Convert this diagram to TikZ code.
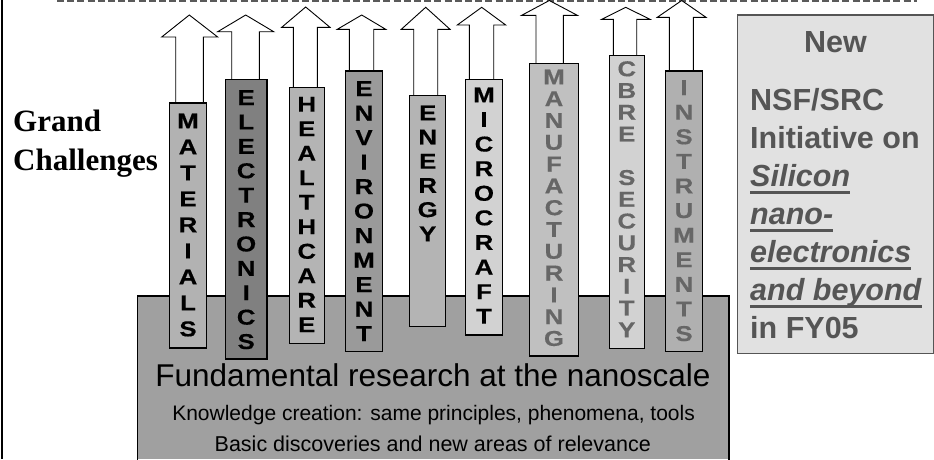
\documentclass[tikz,border=0pt]{standalone}
\usepackage{fontspec}
\setmainfont{Liberation Sans}
\newfontfamily\timesf{Liberation Serif}
\newfontfamily\colfont[FakeStretch=1.2,FakeBold=0.4]{Liberation Sans}
\definecolor{gBase}{HTML}{A0A0A0}
\definecolor{gMat}{HTML}{B2B2B2}
\definecolor{gEle}{HTML}{808080}
\definecolor{gHea}{HTML}{B4B4B4}
\definecolor{gEnv}{HTML}{9A9A9A}
\definecolor{gEne}{HTML}{B4B4B4}
\definecolor{gMic}{HTML}{D2D2D2}
\definecolor{gMan}{HTML}{C0C0C0}
\definecolor{gCbr}{HTML}{D2D2D2}
\definecolor{gIns}{HTML}{B0B0B0}
\definecolor{gTxt}{HTML}{666666}
\definecolor{rFill}{HTML}{E1E1E1}
\definecolor{rText}{HTML}{555555}
\definecolor{dashc}{HTML}{5A5A5A}
\begin{document}
\begin{tikzpicture}[x=1pt,y=-1pt,
  colbox/.style={draw=black, line width=1.1pt, inner sep=0pt, outer sep=0pt},
  blockarrow/.style={draw=black, fill=white, line width=0.9pt, line join=miter},
  rtext/.style={inner sep=0pt, text=rText, font=\bfseries\fontsize{30.5}{36}\selectfont},
  ulstyle/.style={draw=rText, line width=2.8pt},
  gctext/.style={inner sep=0pt, anchor=base west, font=\timesf\bfseries\fontsize{31}{36}\selectfont}]
\useasboundingbox (0,0) rectangle (934,459);
\fill[white] (0,0) rectangle (934,459);
% frame pieces
\draw[line width=2pt] (2,0) -- (2,459);
\draw[dashc, line width=2pt, dash pattern=on 7pt off 3.2pt] (57,1.2) -- (917,1.2);
% block arrows (drawn first, hidden at bottom by columns)
\foreach \n/\bl/\br/\bt/\bb/\sl/\sr/\hb/\hl/\hr/\tx/\ty in {
 mat/169.3/206.7/103/348/175.7/203.3/37/161.7/217.7/189.3/15,
 ele/225.3/267/79.3/359/231.7/259.3/31.7/217.7/273.7/245.7/15,
 hea/289.3/324.3/87.3/343.3/293.3/317.3/27.3/281.7/330/305.7/7,
 env/345.3/382.7/71/351.7/349.3/373.7/29.3/337.3/385.7/361.7/15,
 ene/409.7/445.7/95.7/326.7/413.7/437.7/29.3/401.3/450/425.7/7.3,
 mic/465.3/502.7/79.3/335/469.3/493.7/25/457.3/505.7/481.7/7.3,
 man/529.3/578.7/63.3/356/536/563.3/15.3/521.7/577.3/549.3/0.5,
 cbr/609.3/644.3/55.3/348.3/613.3/636.7/19.3/601.7/650/625.7/7.3,
 ins/665.7/702.3/71/351.7/669.3/693.3/17.3/657.3/706/681.7/0.5}{
  \filldraw[blockarrow] (\sl,{\bt+3}) -- (\sl,\hb) -- (\hl,\hb) -- (\tx,\ty)
     -- (\hr,\hb) -- (\sr,\hb) -- (\sr,{\bt+3}) -- cycle;
}
% base box (bottom edge lies below the picture)
\fill[gBase] (137.3,296) rectangle (729,459);
\draw[line width=1.1pt] (137.3,460) -- (137.3,296) -- (729,296) -- (729,460);
\node[inner sep=0pt, anchor=base, font=\fontsize{31.5}{36}\selectfont] (fund) at (433,386.7) {Fundamental research at the nanoscale};
\node[inner sep=0pt, anchor=base, font=\fontsize{21}{25}\selectfont] (know) at (433.6,420.7) {Knowledge creation: same principles, phenomena, tools};
\node[inner sep=0pt, anchor=base, font=\fontsize{21.5}{25}\selectfont] (basic) at (432.8,451.7) {Basic discoveries and new areas of relevance};
% columns
\foreach \n/\bl/\br/\bt/\bb/\fc/\tc/\ly/\pitch/\txt in {
 mat/169.3/206.7/103/348/gMat/black/113.3/26/{M\\A\\T\\E\\R\\I\\A\\L\\S},
 ele/225.3/267/79.3/359/gEle/black/90/24.4/{E\\L\\E\\C\\T\\R\\O\\N\\I\\C\\S},
 hea/289.3/324.3/87.3/343.3/gHea/black/96.7/24.5/{H\\E\\A\\L\\T\\H\\C\\A\\R\\E},
 env/345.3/382.7/71/351.7/gEnv/black/81/24.5/{E\\N\\V\\I\\R\\O\\N\\M\\E\\N\\T},
 ene/409.7/445.7/95.7/326.7/gEne/black/105.3/24.2/{E\\N\\E\\R\\G\\Y},
 mic/465.3/502.7/79.3/335/gMic/black/87.3/24.6/{M\\I\\C\\R\\O\\C\\R\\A\\F\\T},
 man/529.3/578.7/63.3/356/gMan/gTxt/69.3/21.8/{M\\A\\N\\U\\F\\A\\C\\T\\U\\R\\I\\N\\G},
 cbr/609.3/644.3/55.3/348.3/gCbr/gTxt/61/21.75/{C\\B\\R\\E\\\phantom{S}\\S\\E\\C\\U\\R\\I\\T\\Y},
 ins/665.7/702.3/71/351.7/gIns/gTxt/80/24.6/{I\\N\\S\\T\\R\\U\\M\\E\\N\\T\\S}}{
  \node[colbox, fill=\fc, minimum width={(\br-\bl)*1pt}, minimum height={(\bb-\bt)*1pt}]
     (\n) at ({(\bl+\br)/2},{(\bt+\bb)/2}) {};
  \node[inner sep=0pt, anchor=north, align=center, text=\tc,
     font=\colfont\bfseries\fontsize{21.5}{\pitch}\selectfont] (\n-t) at ({(\bl+\br)/2},\ly) {\txt};
}
% Grand Challenges
\node[gctext] (gc1) at (13,131) {Grand};
\node[gctext] (gc2) at (13,170) {Challenges};
% right box
\node[draw=rText, fill=rFill, line width=1.2pt, inner sep=0pt, outer sep=0pt,
  minimum width=196pt, minimum height=338.3pt] (rbox) at (835.4,184.15) {};
\node[rtext, anchor=base] (new) at (835.5,52.7) {New};
\node[rtext, anchor=base west] (nsf) at (750,110) {NSF/SRC};
\node[rtext, anchor=base west] (ini) at (750,148) {Initiative on};
\node[rtext, anchor=base west, font=\bfseries\itshape\fontsize{30.5}{36}\selectfont] (sil) at (750,186) {Silicon};
\node[rtext, anchor=base west, font=\bfseries\itshape\fontsize{30.5}{36}\selectfont] (nano) at (750,224) {nano-};
\node[rtext, anchor=base west, font=\bfseries\itshape\fontsize{30.5}{36}\selectfont] (elec) at (750,262) {electronics};
\node[rtext, anchor=base west, font=\bfseries\itshape\fontsize{30.5}{36}\selectfont] (beyond) at (750,300) {and beyond};
\node[rtext, anchor=base west] (fy) at (750,338) {in FY05};
\foreach \u in {sil,nano,elec,beyond}{
  \draw[ulstyle] ([yshift=-6.6pt]\u.base west) -- ([yshift=-6.6pt]\u.base east);
}
\end{tikzpicture}
\end{document}
